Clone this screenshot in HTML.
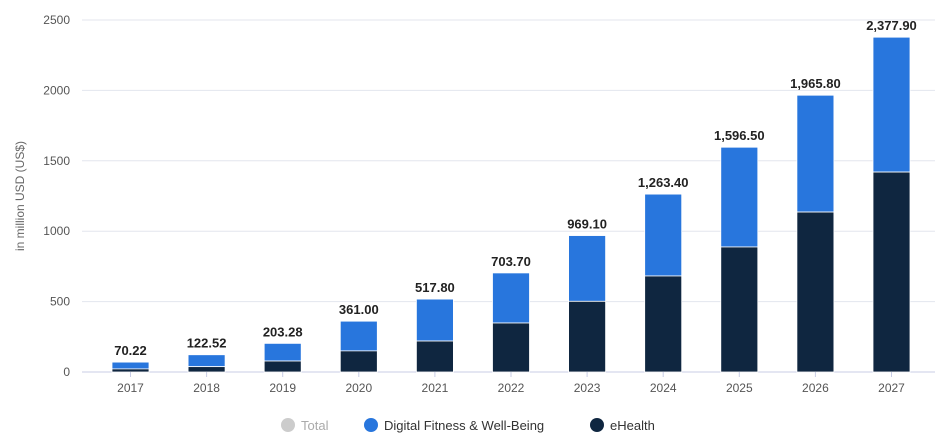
<!DOCTYPE html>
<html><head><meta charset="utf-8"><style>
body{margin:0;background:#fff;font-family:"Liberation Sans",sans-serif}
</style></head><body>
<svg id="c" width="943" height="446" style="display:block"></svg>
<script>
const categories=["2017","2018","2019","2020","2021","2022","2023","2024","2025","2026","2027"];
const totals=[70.22,122.52,203.28,361.00,517.80,703.70,969.10,1263.40,1596.50,1965.80,2377.90];
const totalLabels=["70.22","122.52","203.28","361.00","517.80","703.70","969.10","1,263.40","1,596.50","1,965.80","2,377.90"];
const eHealth=[22,38,78,150,220,348,502,682,888,1136,1420];
const yTicks=[0,500,1000,1500,2000,2500];
const NS="http://www.w3.org/2000/svg";
const svg=document.getElementById('c');
const y0=372,yTop=20,yMax=2500;
const y=v=>y0-(v/yMax)*(y0-yTop);
const x=i=>130.5+i*76.1;
const bw=37;
function el(t,a,p){const e=document.createElementNS(NS,t);for(const k in a)e.setAttribute(k,a[k]);(p||svg).appendChild(e);return e;}
yTicks.forEach(v=>{
 const g=el('line',{x1:82,x2:935,y1:y(v),y2:y(v),stroke:v===0?'#c8cde6':'#e3e6ee','stroke-width':1});
 
 
 const t=el('text',{x:70,y:y(v)+4,'text-anchor':'end','font-size':12,fill:'#555'});
 t.textContent=v;
 
 
});
const yt=el('text',{x:24,y:196,'text-anchor':'middle','font-size':12,fill:'#666',transform:'rotate(-90 24 196)'});
yt.textContent='in million USD (US$)';


categories.forEach((c,i)=>{
 const cx=x(i);
 const fit=totals[i]-eHealth[i];
 const r1=el('rect',{x:cx-bw/2,y:y(totals[i]),width:bw,height:y(eHealth[i])-y(totals[i]),fill:'#2876dd',stroke:'#fff','stroke-width':0.8});
 
 
 const r2=el('rect',{x:cx-bw/2,y:y(eHealth[i]),width:bw,height:y0-y(eHealth[i]),fill:'#0f2640',stroke:'#fff','stroke-width':0.8});
 
 
 const t=el('text',{x:cx,y:y(totals[i])-7,'text-anchor':'middle','font-size':13,'font-weight':'bold',fill:'#222'});
 t.textContent=totalLabels[i];
 
 
 const tk=el('line',{x1:cx,x2:cx,y1:y0,y2:y0+5,stroke:'#c8cde6'});
 
 
 const xl=el('text',{x:cx,y:392,'text-anchor':'middle','font-size':12,fill:'#555'});
 xl.textContent=c;
 
 
});
const legend=[["Total","#ccc","#aaa",288],["Digital Fitness & Well-Being","#2876dd","#333",371],["eHealth","#0f2640","#333",597]];
legend.forEach(l=>{
 const g=el('g',{});
 
 
 el('circle',{cx:l[3],cy:425,r:7,fill:l[1]},g);
 const t=el('text',{x:l[3]+13,y:430,'font-size':13,fill:l[2]},g);
 t.textContent=l[0];
});
</script>
</body></html>
